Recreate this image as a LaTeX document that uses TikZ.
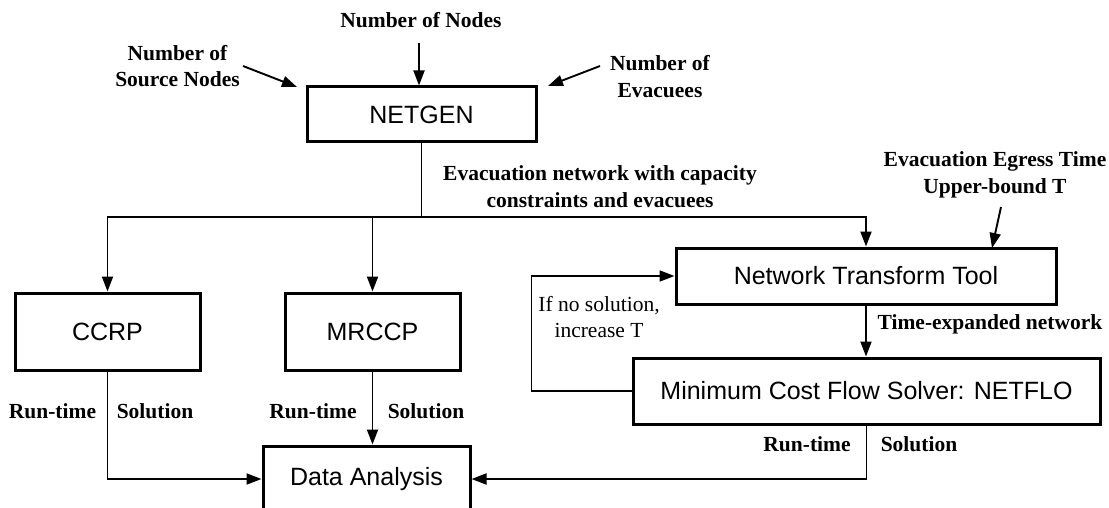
\documentclass[tikz,border=0pt]{standalone}
\usepackage{fontspec}
\setmainfont{Liberation Serif}
\newfontfamily\arialf{Liberation Sans}
\usetikzlibrary{arrows.meta}
\newcommand\boxfont{\arialf\fontsize{25}{30}\selectfont}
\newcommand\lblfont{\bfseries\fontsize{21.5}{26.5}\selectfont}
\newcommand\notefont{\fontsize{21.5}{26.5}\selectfont}
\begin{document}
\begin{tikzpicture}[x=1pt,y=-1pt,
  box/.style={draw, rectangle, line width=3pt, inner sep=0pt, font=\boxfont},
  lbl/.style={font=\lblfont, align=center, inner sep=0pt},
  note/.style={font=\notefont, align=center, inner sep=0pt},
  conn/.style={line width=1.9pt},
  arr/.style={conn, -{Triangle[length=15pt,width=11pt]}}]
\useasboundingbox (0,0) rectangle (1109,508);
\fill[white] (0,0) rectangle (1109,508);
\clip (0,0) rectangle (1109,508);

% boxes
\node[box, minimum width=229pt, minimum height=55pt] (netgen) at (421.5,114.5) {NETGEN};
\node[box, minimum width=185pt, minimum height=77pt] (ccrp) at (107.5,331.5) {CCRP};
\node[box, minimum width=175pt, minimum height=77pt] (mrccp) at (372.5,331.5) {MRCCP};
\node[box, minimum width=380pt, minimum height=56pt] (ntt) at (866,276) {Network Transform Tool};
\node[box, minimum width=467pt, minimum height=66pt] (mcfs) at (866.5,391) {Minimum Cost Flow Solver: NETFLO};
\node[box, minimum width=207pt, minimum height=66pt] (da) at (366.5,479) {Data Analysis};

% labels
\node[lbl] (nn) at (421,20) {Number of Nodes};
\node[lbl] (nsn) at (177.5,66) {Number of\\Source Nodes};
\node[lbl] (nev) at (660,76.5) {Number of\\Evacuees};
\node[lbl] (evn) at (600,186.5) {Evacuation network with capacity\\constraints and evacuees};
\node[lbl] (egr) at (995,175) {Evacuation Egress Time\\Upper-bound T};
\node[note] (ifno) at (599,317) {If no solution,\\increase T};
\node[lbl] (ten) at (990,324) {Time-expanded network};
\node[lbl] (rt1) at (52.5,411) {Run-time};
\node[lbl] (so1) at (155,411) {Solution};
\node[lbl] (rt2) at (313,411) {Run-time};
\node[lbl] (so2) at (426,411) {Solution};
\node[lbl] (rt3) at (807,444) {Run-time};
\node[lbl] (so3) at (919,444) {Solution};

% input arrows
\coordinate (nnA) at (419,43);
\draw[arr] (nnA) -- (nnA |- netgen.north);
\coordinate (snA) at (243,66);
\coordinate (snB) at (297,87);
\draw[arr] (snA) -- (snB);
\coordinate (evA) at (600,66);
\coordinate (evB) at (548,86);
\draw[arr] (evA) -- (evB);
\coordinate (egA) at (1001,207);
\coordinate (egB) at (992,248);
\draw[arr] (egA) -- (egB);

% distribution
\coordinate (j) at (421.5,217);
\draw[conn] (netgen.south) -- (j);
\draw[arr] (j) -| (ccrp.north);
\draw[arr] (j) -| (ntt.north);
\draw[arr] (mrccp.north |- j) -- (mrccp.north);

% pipeline
\draw[arr] (ntt.south) -- (ntt.south |- mcfs.north);
\draw[arr] (mcfs.west) -- ++(-100,0) |- (ntt.west);

% outputs
\draw[arr] (ccrp.south) |- (da.west);
\draw[arr] (mrccp.south) -- (mrccp.south |- da.north);
\draw[arr] (mcfs.south) |- (da.east);
\end{tikzpicture}
\end{document}
